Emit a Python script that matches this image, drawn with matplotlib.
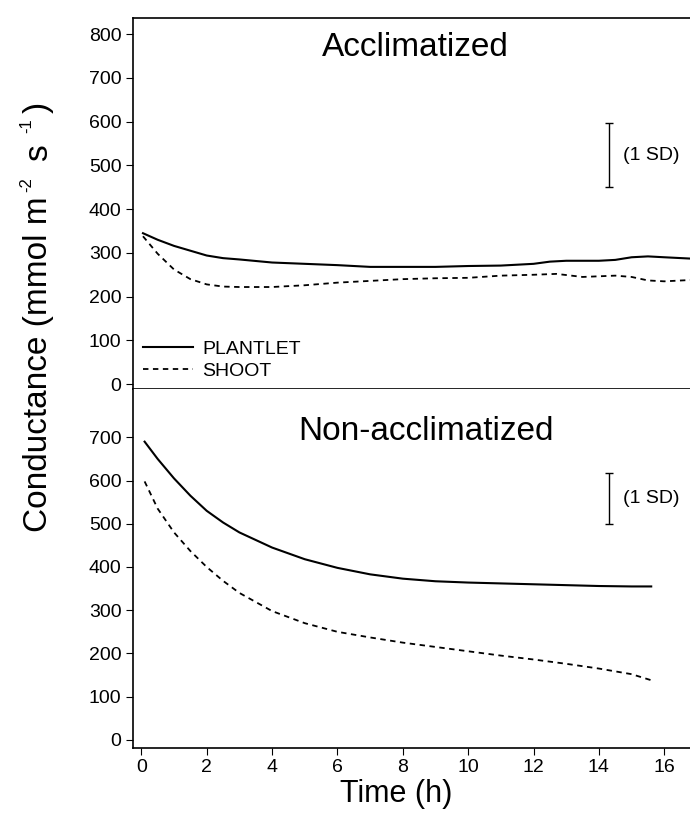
import matplotlib.pyplot as plt

plt.rcParams['font.family'] = ['Liberation Sans', 'DejaVu Sans']

# Acclimatized panel
acc_time = [0.05, 0.5, 1, 1.5, 2, 2.5, 3, 4, 5, 6, 7, 8, 9, 10, 11, 12, 12.5, 13, 14, 14.5, 15, 15.5, 16, 16.8]
acc_plantlet = [345, 330, 316, 305, 294, 288, 285, 278, 275, 272, 268, 268, 268, 270, 271, 275, 280, 282, 282, 284, 290, 292, 290, 287]
acc_time_s = [0.05, 0.5, 1, 1.5, 2, 2.5, 3, 4, 5, 6, 7, 8, 9, 10, 11, 12, 12.7, 13.5, 14.5, 15, 15.5, 16, 16.8]
acc_shoot = [338, 298, 262, 240, 228, 223, 222, 222, 226, 232, 236, 240, 242, 243, 248, 250, 252, 245, 248, 245, 237, 235, 238]

# Non-acclimatized panel
non_time = [0.1, 0.5, 1, 1.5, 2, 2.5, 3, 4, 5, 6, 7, 8, 9, 10, 11, 12, 13, 14, 15, 15.6]
non_plantlet = [690, 650, 605, 565, 530, 503, 480, 445, 418, 398, 383, 373, 367, 364, 362, 360, 358, 356, 355, 355]
non_shoot = [598, 535, 480, 437, 400, 368, 340, 298, 270, 250, 237, 225, 215, 205, 195, 186, 176, 165, 152, 138]

# 1 SD bars: (x, low, high)
acc_sd = (14.3, 450, 597)
non_sd = (14.3, 500, 618)

xticks = list(range(0, 17, 2))

W, H = 690, 818
fig = plt.figure(figsize=(W / 100, H / 100), dpi=100)
ax1 = fig.add_axes([0.193, 0.524, 0.81, 0.454])
ax2 = fig.add_axes([0.193, 0.086, 0.81, 0.438])

for ax in (ax1, ax2):
    ax.spines['right'].set_visible(False)
    ax.set_xlim(-0.25, 16.85)
    ax.set_xticks(xticks)
    ax.tick_params(direction='out', length=5, width=0.8, labelsize=14)
    for s in ax.spines.values():
        s.set_linewidth(1.2)

# top panel
ax1.plot(acc_time, acc_plantlet, color='black', lw=1.5, label='PLANTLET')
ax1.plot(acc_time_s, acc_shoot, color='black', lw=1.3, linestyle=(0, (3, 2.5)), label='SHOOT')
ax1.set_ylim(-12, 837)
ax1.set_yticks(range(0, 801, 100))
ax1.tick_params(axis='x', labelbottom=False)
ax1.vlines(acc_sd[0], acc_sd[1], acc_sd[2], color='black', lw=1)
ax1.hlines([acc_sd[1], acc_sd[2]], acc_sd[0] - 0.12, acc_sd[0] + 0.12, color='black', lw=1)
ax1.text(acc_sd[0] + 0.45, (acc_sd[1] + acc_sd[2]) / 2, '(1 SD)', fontsize=14, va='center')
ax1.text(8.37, 770, 'Acclimatized', fontsize=24, ha='center', va='center')
ax1.legend(loc='lower left', bbox_to_anchor=(0.0, 0.0), frameon=False, fontsize=14,
           handlelength=2.6, handletextpad=0.45, labelspacing=0.2, borderaxespad=0.1)

# bottom panel
ax2.spines['top'].set_visible(False)
ax2.plot(non_time, non_plantlet, color='black', lw=1.5)
ax2.plot(non_time, non_shoot, color='black', lw=1.3, linestyle=(0, (3, 2.5)))
ax2.set_ylim(-18, 811)
ax2.set_yticks(range(0, 701, 100))
ax2.vlines(non_sd[0], non_sd[1], non_sd[2], color='black', lw=1)
ax2.hlines([non_sd[1], non_sd[2]], non_sd[0] - 0.12, non_sd[0] + 0.12, color='black', lw=1)
ax2.text(non_sd[0] + 0.45, (non_sd[1] + non_sd[2]) / 2, '(1 SD)', fontsize=14, va='center')
ax2.text(8.7, 713, 'Non-acclimatized', fontsize=24, ha='center', va='center')
ax2.set_xlabel('Time (h)', fontsize=22, labelpad=2, x=0.47)

# y label with widely spaced superscripts, pieces placed along the left edge
ylabel_parts = [
    ('Conductance (mmol m', 47, 532, 24),
    ('-2', 31, 192, 12),
    ('s', 47, 161, 24),
    ('-1', 31, 133, 12),
    (')', 47, 113, 24),
]
for txt, px, py, size in ylabel_parts:
    fig.text(px / W, 1 - py / H, txt, rotation=90, rotation_mode='anchor',
             ha='left', va='baseline', fontsize=size)

fig.savefig('out.png', dpi=100)
